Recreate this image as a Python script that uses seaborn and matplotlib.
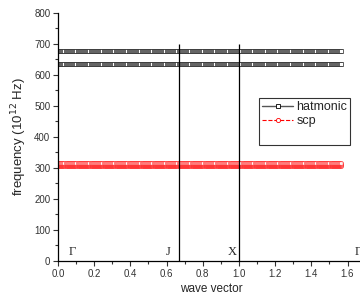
import matplotlib
matplotlib.use('Agg')
import matplotlib.pyplot as plt
import numpy as np
import pandas as pd
import seaborn as sns
from matplotlib.lines import Line2D
from matplotlib.ticker import MultipleLocator

# Data: flat phonon bands along the wave-vector path
k_path = np.arange(0, 1.571, 0.006)
harmonic_bands = [634, 678]
scp_bands = [305, 309, 313, 317]
kpoint_pos = [0.077, 0.61, 0.96, 1.66]
kpoint_labels = ['Γ', 'J', 'X', 'Γ']
divider_pos = [0.668, 1.0]

sns.set_style('ticks')
plt.rcParams['font.family'] = ['Liberation Sans', 'DejaVu Sans']

df_h = pd.DataFrame([(k, f, i) for i, f in enumerate(harmonic_bands) for k in k_path],
                    columns=['k', 'freq', 'band'])
df_s = pd.DataFrame([(k, f, i) for i, f in enumerate(scp_bands) for k in k_path],
                    columns=['k', 'freq', 'band'])

fig = plt.figure(figsize=(3.6, 3.01), dpi=100)
ax = fig.add_axes([0.161, 0.133, 1.7 * 181 / 360, 0.824])

sns.lineplot(ax=ax, data=df_h, x='k', y='freq', units='band', estimator=None,
             color='black', lw=0.6, marker='s', markersize=2.2,
             markerfacecolor='white', markeredgecolor='#222222', markeredgewidth=0.5)
sns.lineplot(ax=ax, data=df_s, x='k', y='freq', units='band', estimator=None,
             color='red', lw=0.6, ls='--', marker='o', markersize=3,
             markerfacecolor='white', markeredgecolor='red', markeredgewidth=0.5, alpha=0.7)

ax.vlines(divider_pos, 0, 700, color='black', lw=0.9)

for x, lab in zip(kpoint_pos, kpoint_labels):
    ax.text(x, 30, lab, family='Liberation Serif', fontsize=9, ha='center', va='center')

ax.set_xlim(0, 1.7)
ax.set_ylim(0, 800)
ax.xaxis.set_major_locator(MultipleLocator(0.2))
ax.xaxis.set_minor_locator(MultipleLocator(0.1))
ax.yaxis.set_major_locator(MultipleLocator(100))
ax.yaxis.set_minor_locator(MultipleLocator(50))
ax.xaxis.set_major_formatter(matplotlib.ticker.FormatStrFormatter('%.1f'))
ax.tick_params(which='major', length=3.5, width=0.8, labelsize=7, pad=2, colors='#333333')
ax.tick_params(which='minor', length=2, width=0.8, colors='#333333')
ax.set_xlabel('wave vector', fontsize=8.5, labelpad=3)
ax.set_ylabel('frequency (10$^{12}$ Hz)', fontsize=9.5, labelpad=4)
sns.despine(ax=ax)
for sp in ax.spines.values():
    sp.set_linewidth(0.9)
    sp.set_color('black')

handles = [
    Line2D([], [], color='#555555', lw=1, marker='s', markersize=2.5,
           markerfacecolor='white', markeredgecolor='black', markeredgewidth=0.6),
    Line2D([], [], color='red', lw=0.8, ls='--', marker='o', markersize=3,
           markerfacecolor='white', markeredgecolor='red', markeredgewidth=0.6),
    Line2D([], [], color='none'),
]
leg = ax.legend(handles, ['hatmonic', 'scp', ' '], loc='upper left',
                bbox_to_anchor=(201 / 307.7, 0.658), fontsize=9, frameon=True,
                fancybox=False, edgecolor='black', handlelength=2.5,
                handletextpad=0.25, borderpad=0.25, labelspacing=0.2, borderaxespad=0)
leg.get_frame().set_linewidth(0.8)

fig.savefig('out.png', dpi=100)
